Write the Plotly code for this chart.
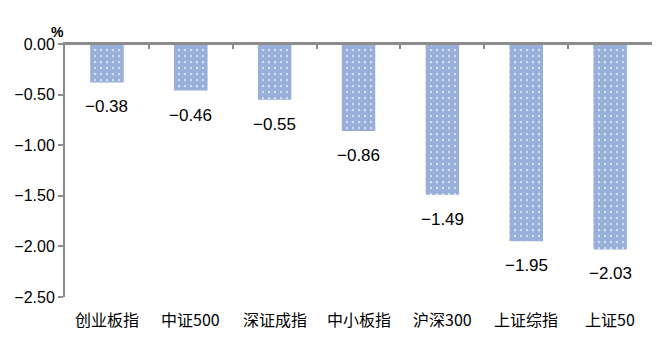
import plotly.graph_objects as go

categories = ["创业板指", "中证500", "深证成指", "中小板指", "沪深300", "上证综指", "上证50"]
values = [-0.38, -0.46, -0.55, -0.86, -1.49, -1.95, -2.03]
y_ticks = [0, -0.5, -1.0, -1.5, -2.0, -2.5]

BLUE = "#2F5FB3"
GRAY = "#8C8C8C"

fig = go.Figure()
fig.add_trace(go.Bar(
    x=categories, y=values, width=0.4,
    marker=dict(color="white", line=dict(width=0),
                pattern=dict(shape=".", fgcolor=BLUE, bgcolor="white",
                             size=6, solidity=0.85, fillmode="overlay")),
    hoverinfo="skip", showlegend=False,
))

# value labels under each bar
for c, v in zip(categories, values):
    fig.add_annotation(x=c, y=v, text=f"{v:.2f}".replace("-", "−"), showarrow=False,
                       yanchor="top", yshift=-13,
                       font=dict(family="Liberation Sans, Arial", size=17, color="black"))

# category labels along the bottom edge
for c in categories:
    fig.add_annotation(x=c, xref="x", yref="paper", y=0, yanchor="top", yshift=-8,
                       text=c, showarrow=False,
                       font=dict(family="Noto Sans CJK SC", size=16, color="black"))

fig.add_annotation(xref="paper", yref="paper", x=-0.012, y=1.0, yshift=22,
                   text="<b>%</b>", showarrow=False, xanchor="center",
                   font=dict(family="Liberation Sans, Arial", size=14, color="black"))

# baseline at zero (top edge of the plot)
fig.add_shape(type="line", xref="paper", yref="y", x0=0, x1=1, y0=0, y1=0,
              line=dict(color=GRAY, width=2), layer="above")

fig.update_layout(
    width=660, height=343,
    margin=dict(l=65, r=8, t=44, b=46),
    plot_bgcolor="white", paper_bgcolor="white",
    xaxis=dict(type="category", side="top",
               showline=True, linecolor=GRAY, linewidth=2,
               ticks="inside", tickson="boundaries", ticklen=5,
               tickcolor=GRAY, tickwidth=2, showticklabels=True,
               tickfont=dict(size=1, color="rgba(0,0,0,0)")),
    yaxis=dict(range=[-2.5, 0], tickvals=y_ticks, tickformat=".2f",
               showline=True, linecolor=GRAY, linewidth=2, ticks="outside",
               ticklen=5, tickcolor=GRAY, tickwidth=2, showgrid=False,
               zeroline=False,
               tickfont=dict(family="Liberation Sans, Arial", size=16, color="black")),
)

fig.write_html("out.html")
